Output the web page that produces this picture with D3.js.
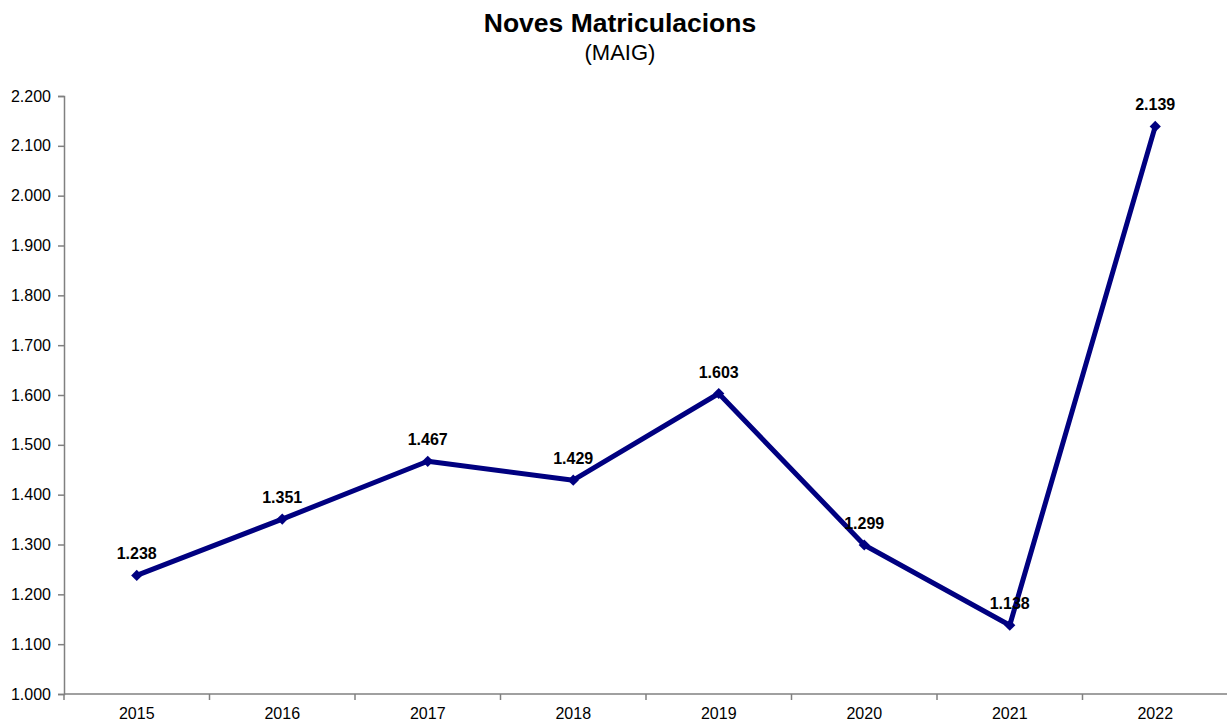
<!DOCTYPE html>
<html>
<head>
<meta charset="utf-8">
<script src="https://cdn.jsdelivr.net/npm/d3@7/dist/d3.min.js"></script>
<style>
  html, body { margin: 0; padding: 0; background: #fff; }
  svg { display: block; font-family: "Liberation Sans", Arial, sans-serif; }
</style>
</head>
<body>
<svg id="chart" width="1227" height="722"></svg>
<script>
const categories = ["2015", "2016", "2017", "2018", "2019", "2020", "2021", "2022"];
const values = [1238, 1351, 1467, 1429, 1603, 1299, 1138, 2139];
const yTicks = [1000, 1100, 1200, 1300, 1400, 1500, 1600, 1700, 1800, 1900, 2000, 2100, 2200];

const svg = d3.select("#chart");
const margin = { left: 64, right: 0, top: 96, bottom: 28 };

const x = d3.scaleBand().domain(categories).range([margin.left, 1228]).padding(0);
const y = d3.scaleLinear().domain([1000, 2200]).range([694, 96]);

const fmt = v => d3.format(",")(v).replace(/,/g, ".");

// Title
svg.append("text").attr("x", 620).attr("y", 32).attr("text-anchor", "middle")
  .attr("font-size", 26.5).attr("font-weight", "bold").attr("fill", "#000")
  .text("Noves Matriculacions");
svg.append("text").attr("x", 620).attr("y", 60).attr("text-anchor", "middle")
  .attr("font-size", 22).attr("fill", "#000")
  .text("(MAIG)");

const axisColor = "#808080";

// Y axis
const yAxis = svg.append("g").attr("transform", `translate(${margin.left},0)`)
  .call(d3.axisLeft(y).tickValues(yTicks).tickSize(6).tickPadding(7).tickFormat(fmt));
yAxis.select(".domain").attr("stroke", axisColor).attr("stroke-width", 1.5);
yAxis.selectAll(".tick line").attr("stroke", axisColor).attr("stroke-width", 1.5);
yAxis.selectAll(".tick text").attr("font-size", 16).attr("fill", "#000")
  .attr("font-family", "Liberation Sans, Arial, sans-serif");

// X axis
const xAxisG = svg.append("g").attr("transform", `translate(0,${y(1000)})`);
xAxisG.append("line").attr("x1", margin.left).attr("x2", 1228).attr("y1", 0).attr("y2", 0)
  .attr("stroke", axisColor).attr("stroke-width", 1.5);
const bounds = categories.map(c => x(c)).concat([x(categories[categories.length - 1]) + x.bandwidth()]);
xAxisG.selectAll("line.tk").data(bounds).join("line").attr("class", "tk")
  .attr("x1", d => d).attr("x2", d => d).attr("y1", 0).attr("y2", 6)
  .attr("stroke", axisColor).attr("stroke-width", 1.5);
xAxisG.selectAll("text").data(categories).join("text")
  .attr("x", d => x(d) + x.bandwidth() / 2).attr("y", 25)
  .attr("text-anchor", "middle").attr("font-size", 16).attr("fill", "#000")
  .text(d => d);

// Line
const pts = categories.map((c, i) => ({ c, v: values[i] }));
const line = d3.line().x(d => x(d.c) + x.bandwidth() / 2).y(d => y(d.v));
svg.append("path").datum(pts).attr("d", line)
  .attr("fill", "none").attr("stroke", "#000080").attr("stroke-width", 5)
  .attr("stroke-linejoin", "round");

// Markers (diamonds)
svg.selectAll("path.mk").data(pts).join("path").attr("class", "mk")
  .attr("d", d3.symbol().type(d3.symbolDiamond2).size(80))
  .attr("transform", d => `translate(${x(d.c) + x.bandwidth() / 2},${y(d.v)})`)
  .attr("fill", "#000080");

// Labels
svg.selectAll("text.lbl").data(pts).join("text").attr("class", "lbl")
  .attr("x", d => x(d.c) + x.bandwidth() / 2)
  .attr("y", d => y(d.v) - 16)
  .attr("text-anchor", "middle").attr("font-size", 16).attr("font-weight", "bold")
  .attr("fill", "#000")
  .text(d => fmt(d.v));
</script>
</body>
</html>
